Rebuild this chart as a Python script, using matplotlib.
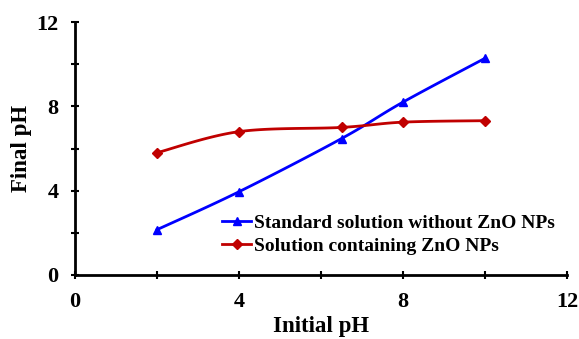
import numpy as np
import matplotlib.pyplot as plt
from matplotlib.lines import Line2D

plt.rcParams['font.family'] = ['Liberation Serif', 'DejaVu Serif']
plt.rcParams['font.weight'] = 'bold'

initial_ph = [2, 4, 6.5, 8, 10]
final_standard = [2.15, 3.95, 6.47, 8.2, 10.28]
final_zno = [5.8, 6.8, 7.0, 7.25, 7.32]

labels = ['Standard solution without ZnO NPs', 'Solution containing ZnO NPs']
colors = ['#0000ff', '#c00000']
markers = ['^', 'D']


def smooth(x, y, n=30):
    # Bezier curve through the points, control points like a spreadsheet "smoothed line"
    x = np.asarray(x, float)
    y = np.asarray(y, float)
    px = np.concatenate(([x[0]], x, [x[-1]]))
    py = np.concatenate(([y[0]], y, [y[-1]]))
    xs, ys = [], []
    t = np.linspace(0, 1, n)
    for i in range(1, len(px) - 2):
        p0 = np.array([px[i], py[i]])
        p3 = np.array([px[i + 1], py[i + 1]])
        c1 = p0 + (np.array([px[i + 1], py[i + 1]]) - np.array([px[i - 1], py[i - 1]])) / 6
        c2 = p3 - (np.array([px[i + 2], py[i + 2]]) - np.array([px[i], py[i]])) / 6
        b = ((1 - t) ** 3)[:, None] * p0 + (3 * (1 - t) ** 2 * t)[:, None] * c1 \
            + (3 * (1 - t) * t ** 2)[:, None] * c2 + (t ** 3)[:, None] * p3
        xs.extend(b[:, 0])
        ys.extend(b[:, 1])
    return xs, ys


fig = plt.figure(figsize=(5.79, 3.39), dpi=100)
ax = fig.add_axes([75 / 579, 1 - 275 / 339, 492 / 579, 253 / 339])

for yv, c, m in zip([final_standard, final_zno], colors, markers):
    sx, sy = smooth(initial_ph, yv)
    ax.plot(sx, sy, color=c, lw=2)
    ax.plot(initial_ph, yv, ls='none', marker=m, color=c,
            markersize=6 if m == '^' else 5)

ax.set_xlim(0, 12)
ax.set_ylim(0, 12)
ax.set_xticks([0, 4, 8, 12])
ax.set_yticks([0, 4, 8, 12])
ax.set_xticks([2, 6, 10], minor=True)
ax.set_yticks([2, 6, 10], minor=True)
ax.tick_params(which='both', direction='inout', length=6, width=1.5, labelsize=16)
ax.tick_params(axis='x', pad=9)
ax.tick_params(axis='y', pad=9)
ax.spines['top'].set_visible(False)
ax.spines['right'].set_visible(False)
for s in ['left', 'bottom']:
    ax.spines[s].set_linewidth(2)

ax.set_xlabel('Initial pH', fontsize=16.5, fontweight='bold', labelpad=3)
ax.set_ylabel('Final pH', fontsize=16.5, fontweight='bold', labelpad=3)

handles = [Line2D([], [], color=c, lw=2, marker=m, markersize=6 if m == '^' else 5)
           for c, m in zip(colors, markers)]
fig.legend(handles, labels, loc='upper left', bbox_to_anchor=(222 / 579, 1 - 214 / 339),
           frameon=False, fontsize=14, handlelength=1.5, handletextpad=0.15,
           labelspacing=0.3, borderaxespad=0, borderpad=0)

fig.savefig('out.png', dpi=100)
